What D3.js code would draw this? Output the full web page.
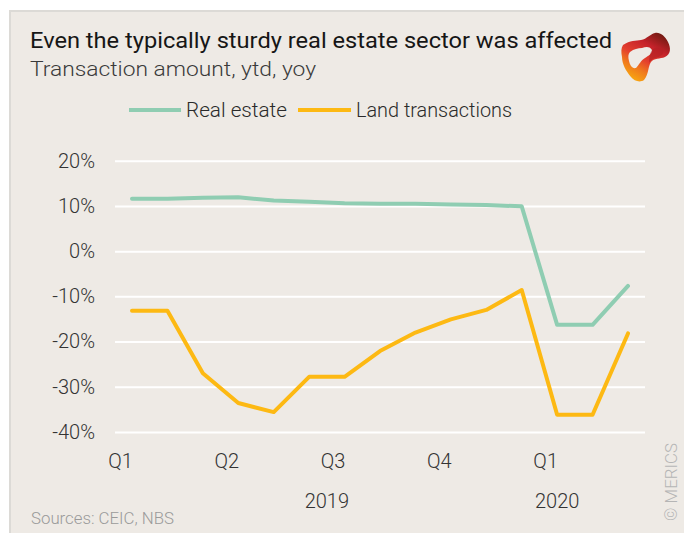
<!DOCTYPE html>
<html>
<head>
<meta charset="utf-8">
<script src="https://cdn.jsdelivr.net/npm/d3@7"></script>
<style>
  html, body { margin: 0; padding: 0; background: #ffffff; }
  svg { display: block; }
  text { font-family: Roboto, "Liberation Sans", sans-serif; }
</style>
</head>
<body>
<div id="chart"></div>
<script>
// ---- Data ----
const months = ["Jan 2019","Feb 2019","Mar 2019","Apr 2019","May 2019","Jun 2019","Jul 2019","Aug 2019","Sep 2019","Oct 2019","Nov 2019","Dec 2019","Jan 2020","Feb 2020","Mar 2020"];
const realEstate = [11.6, 11.6, 11.8, 11.9, 11.2, 10.9, 10.6, 10.5, 10.5, 10.3, 10.2, 9.9, -16.3, -16.3, -7.7];
const landTransactions = [-13.2, -13.2, -27.0, -33.6, -35.6, -27.8, -27.8, -22.1, -18.0, -15.1, -13.0, -8.6, -36.2, -36.2, -18.2];
const yTicks = [20, 10, 0, -10, -20, -30, -40];
const quarterIndex = [0, 3, 6, 9, 12];
const quarterLabels = ["Q1", "Q2", "Q3", "Q4", "Q1"];
const yearLabels = ["2019", "2020"];
const yearIndex = [5.5, 12];
const seriesNames = ["Real estate", "Land transactions"];
const seriesColors = ["#8fcdb2", "#fdb913"];

const W = 684, H = 533;
const svg = d3.select("#chart").append("svg").attr("width", W).attr("height", H);

// Panel background with light border
svg.append("rect").attr("x", 9).attr("y", 10).attr("width", W - 9).attr("height", H - 10).attr("fill", "#dcdad6");
svg.append("rect").attr("x", 11).attr("y", 12).attr("width", W - 11).attr("height", H - 12).attr("fill", "#eeeae5");

// Title / subtitle
svg.append("text").attr("x", 30).attr("y", 48).attr("font-size", 22).attr("fill", "#161616")
  .attr("textLength", 582).attr("lengthAdjust", "spacingAndGlyphs")
  .text("Even the typically sturdy real estate sector was affected");
svg.append("text").attr("x", 30).attr("y", 76).attr("font-size", 20).attr("fill", "#3a3a3a").attr("font-weight", 300)
  .attr("textLength", 286).attr("lengthAdjust", "spacingAndGlyphs")
  .text("Transaction amount, ytd, yoy");

// Logo (approximate ribbon)
const defs = svg.append("defs");
const grad = defs.append("linearGradient").attr("id", "lg").attr("x1", "0.9").attr("y1", "0.05").attr("x2", "0.35").attr("y2", "1");
grad.append("stop").attr("offset", "0").attr("stop-color", "#6e1a10");
grad.append("stop").attr("offset", "0.3").attr("stop-color", "#c4222a");
grad.append("stop").attr("offset", "0.6").attr("stop-color", "#e4402e");
grad.append("stop").attr("offset", "0.8").attr("stop-color", "#f07a1c");
grad.append("stop").attr("offset", "1").attr("stop-color", "#f7a212");
svg.append("path")
  .attr("d",
    "M623,45 C630,40 636,41 641,40 C647,39 650,34 655,33 C660,32 665,36 668,42 C671,48 671,54 665,57 " +
    "C660,59 654,58 651,62 C648,66 649,74 644,80 C640,83 634,81 631,77 C626,71 622,64 622,57 C621,52 621,48 623,45 Z " +
    "M630,52 C634,49 638,48 642,48 C646,47 649,46 652,50 C653,53 648,56 645,58 C641,60 639,65 636,68 C632,69 630,65 629,61 C628,57 628,54 630,52 Z")
  .attr("fill", "url(#lg)").attr("fill-rule", "evenodd");
// inner fold highlight
svg.append("path")
  .attr("d", "M652,50 C656,46 660,48 663,50 C665,54 660,57 655,58 C652,59 650,61 649,63 C649,58 650,53 652,50 Z")
  .attr("fill", "#b31f24").attr("opacity", 0.6);

// Legend
const legendItems = [
  { x1: 129, x2: 181, tx: 186, tl: 101 },
  { x1: 298, x2: 351, tx: 356, tl: 156 }
];
legendItems.forEach((l, i) => {
  svg.append("line").attr("x1", l.x1).attr("x2", l.x2).attr("y1", 110).attr("y2", 110)
    .attr("stroke", seriesColors[i]).attr("stroke-width", 4);
  svg.append("text").attr("x", l.tx).attr("y", 117).attr("font-size", 20).attr("fill", "#2a2a2a").attr("font-weight", 300)
    .attr("textLength", l.tl).attr("lengthAdjust", "spacingAndGlyphs").text(seriesNames[i]);
});

// Scales
const x = d3.scaleLinear().domain([0, months.length - 1]).range([132, 628]);
const y = d3.scaleLinear().domain([-40, 20]).range([432, 160.7]);

// Y axis + gridlines
const yAxis = svg.append("g").attr("transform", "translate(115,0)")
  .call(d3.axisLeft(y).tickValues(yTicks).tickSize(-530).tickPadding(20).tickFormat(d => d + "%"));
yAxis.select(".domain").remove();
yAxis.selectAll(".tick line").attr("stroke", "#ffffff").attr("stroke-width", 2);
yAxis.selectAll(".tick text").attr("font-size", 20).attr("fill", "#333").attr("font-weight", 300)
  .attr("font-family", "Roboto, sans-serif");

// X axis quarter labels
const xAxis = svg.append("g").attr("transform", "translate(-12,440)")
  .call(d3.axisBottom(x).tickValues(quarterIndex).tickSize(0).tickPadding(14)
    .tickFormat((d, i) => quarterLabels[i]));
xAxis.select(".domain").remove();
xAxis.selectAll(".tick text").attr("font-size", 20).attr("fill", "#333").attr("font-weight", 300)
  .attr("font-family", "Roboto, sans-serif");

// Year labels
svg.selectAll(".year").data(yearLabels).enter().append("text")
  .attr("class", "year")
  .attr("x", (d, i) => x(yearIndex[i]))
  .attr("y", 508).attr("text-anchor", "middle").attr("font-size", 20).attr("fill", "#333").attr("font-weight", 300)
  .text(d => d);

// Lines
const line = d3.line().x((d, i) => x(i)).y(d => y(d));
[realEstate, landTransactions].forEach((s, i) => {
  svg.append("path").datum(s).attr("d", line).attr("fill", "none")
    .attr("stroke", seriesColors[i]).attr("stroke-width", 4)
    .attr("stroke-linejoin", "round").attr("stroke-linecap", "round");
});

// Source
svg.append("text").attr("x", 31).attr("y", 524).attr("font-size", 16).attr("fill", "#9a9a9a").attr("font-weight", 300)
  .attr("textLength", 143).attr("lengthAdjust", "spacingAndGlyphs")
  .text("Sources: CEIC, NBS");

// Copyright (vertical)
svg.append("text").attr("transform", "translate(677,521) rotate(-90)")
  .attr("font-size", 17).attr("fill", "#b5b5b5").attr("font-weight", 300)
  .attr("textLength", 78).attr("lengthAdjust", "spacingAndGlyphs")
  .text("© MERICS");
</script>
</body>
</html>
